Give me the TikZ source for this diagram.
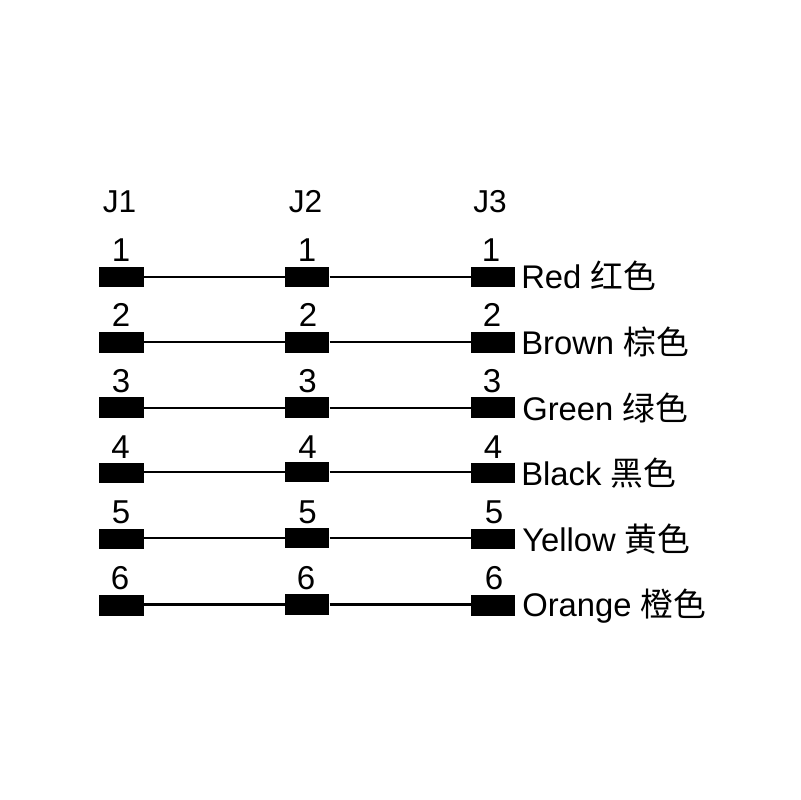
\documentclass[tikz,border=0pt]{standalone}
\usepackage{fontspec}
\setmainfont{Liberation Sans}
\newfontfamily\cjk{Noto Sans CJK SC}
\usetikzlibrary{positioning}

\begin{document}
\begin{tikzpicture}
    [x=0.025cm, y=-0.025cm,
     contact/.style={fill=black,inner sep=0,minimum width=1.1cm,minimum height=0.515cm},
     num/.style={anchor=base,inner sep=0,font=\fontsize{23.5}{26}\selectfont},
     header/.style={num,font=\fontsize{22.5}{26}\selectfont},
     colourname/.style={num,anchor=base west,font=\fontsize{23.3}{26}\selectfont},
     wire/.style={line width=1.7pt}]
    \useasboundingbox (0, 0) rectangle (800, 800);

    % Headers
    \node (j1) at (119.5, 212) [header] {J1};
    \node (j2) at (305.5, 212) [header] {J2};
    \node (j3) at (490, 212) [header] {J3};

    % J1
    \node (j1c1) at (121.5, 277) [contact] {};
    \node (j1c2) at (121.5, 342.3) [contact] {};
    \node (j1c3) at (121.5, 407.7) [contact] {};
    \node (j1c4) at (121.5, 473) [contact] {};
    \node (j1c5) at (121.5, 539) [contact] {};
    \node (j1c6) at (121.5, 605.3) [contact] {};
    \node (j1n1) at (121, 261) [num] {1};
    \node (j1n2) at (121, 326.5) [num] {2};
    \node (j1n3) at (121, 392) [num] {3};
    \node (j1n4) at (120.5, 458) [num] {4};
    \node (j1n5) at (121, 523.5) [num] {5};
    \node (j1n6) at (120, 589) [num] {6};

    % J2
    \node (j2c1) at (307.3, 277) [contact] {};
    \node (j2c2) at (307.3, 342.3) [contact] {};
    \node (j2c3) at (307.3, 407.7) [contact] {};
    \node (j2c4) at (307.3, 472) [contact] {};
    \node (j2c5) at (307.3, 538) [contact] {};
    \node (j2c6) at (307.3, 604.3) [contact] {};
    \node (j2n1) at (307, 261) [num] {1};
    \node (j2n2) at (308, 326.5) [num] {2};
    \node (j2n3) at (307.5, 392) [num] {3};
    \node (j2n4) at (307.5, 458) [num] {4};
    \node (j2n5) at (307.5, 523.5) [num] {5};
    \node (j2n6) at (306, 589) [num] {6};

    % J3
    \node (j3c1) at (493, 277) [contact] {};
    \node (j3c2) at (493, 342.3) [contact] {};
    \node (j3c3) at (493, 407.7) [contact] {};
    \node (j3c4) at (493, 472.8) [contact] {};
    \node (j3c5) at (493, 539) [contact] {};
    \node (j3c6) at (493, 605.3) [contact] {};
    \node (j3n1) at (491, 261) [num] {1};
    \node (j3n2) at (492, 326) [num] {2};
    \node (j3n3) at (492, 392) [num] {3};
    \node (j3n4) at (493, 458) [num] {4};
    \node (j3n5) at (494, 523) [num] {5};
    \node (j3n6) at (494, 589) [num] {6};

    % Colours
    \node (red) at (521, 288) [colourname] {Red {\cjk 红色}};
    \node (brown) at (521, 354) [colourname] {Brown {\cjk 棕色}};
    \node (green) at (522, 420) [colourname] {Green {\cjk 绿色}};
    \node (black) at (521, 485) [colourname] {Black {\cjk 黑色}};
    \node (yellow) at (522, 551) [colourname] {Yellow {\cjk 黄色}};
    \node (orange) at (522, 616.5) [colourname] {Orange {\cjk 橙色}};

    % Wires
    \draw [wire] (j1c1) -- (j2c1) -- (j3c1);
    \draw [wire] (j1c2) -- (j2c2) -- (j3c2);
    \draw [wire] (j1c3) -- (j2c3) -- (j3c3);
    \draw [wire] (j2c4 -| j1c4.east) -- (j2c4) -- (j2c4 -| j3c4.west);
    \draw [wire] (j2c5 -| j1c5.east) -- (j2c5) -- (j2c5 -| j3c5.west);
    \draw [wire] (j2c6 -| j1c6.east) -- (j2c6) -- (j2c6 -| j3c6.west);
\end{tikzpicture}
\end{document}
